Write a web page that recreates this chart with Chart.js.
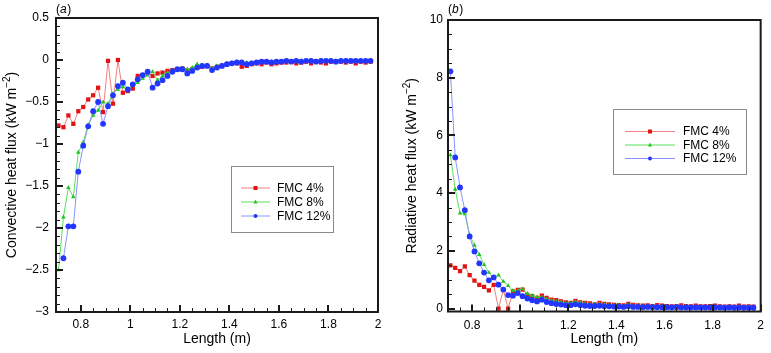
<!DOCTYPE html>
<html>
<head>
<meta charset="utf-8">
<script src="https://cdn.jsdelivr.net/npm/chart.js@4.4.0/dist/chart.umd.min.js"></script>
<style>
  html, body { margin: 0; padding: 0; background: #fff; }
  #wrap { position: relative; width: 771px; height: 353px; }
  canvas { position: absolute; top: 0; }
</style>
</head>
<body>
<div id="wrap">
  <canvas id="conv" width="390" height="353" style="left:0"></canvas>
  <canvas id="rad" width="381" height="353" style="left:390px"></canvas>
</div>
<script>
// distance along the fuel bed (m)
var lengths = [
  0.71, 0.73, 0.75, 0.77, 0.79, 0.81, 0.83, 0.85,
  0.87, 0.89, 0.91, 0.93, 0.95, 0.97, 0.99, 1.01,
  1.03, 1.05, 1.07, 1.09, 1.11, 1.13, 1.15, 1.17,
  1.19, 1.21, 1.23, 1.25, 1.27, 1.29, 1.31, 1.33,
  1.35, 1.37, 1.39, 1.41, 1.43, 1.45, 1.47, 1.49,
  1.51, 1.53, 1.55, 1.57, 1.59, 1.61, 1.63, 1.65,
  1.67, 1.69, 1.71, 1.73, 1.75, 1.77, 1.79, 1.81,
  1.83, 1.85, 1.87, 1.89, 1.91, 1.93, 1.95, 1.97
];

// (a) convective heat flux, kW m-2
var conv4 = [
  -0.78, -0.80, -0.66, -0.76, -0.61, -0.56, -0.47, -0.42,
  -0.33, -0.62, -0.01, -0.52, 0.00, -0.39, -0.37, -0.34,
  -0.19, -0.18, -0.15, -0.19, -0.16, -0.15, -0.13, -0.12,
  -0.11, -0.10, -0.12, -0.11, -0.08, -0.08, -0.07, -0.10,
  -0.08, -0.07, -0.05, -0.04, -0.04, -0.08, -0.07, -0.05,
  -0.04, -0.05, -0.03, -0.05, -0.04, -0.03, -0.03, -0.02,
  -0.04, -0.03, -0.02, -0.04, -0.02, -0.03, -0.04, -0.02,
  -0.02, -0.02, -0.03, -0.02, -0.04, -0.02, -0.03, -0.02
];
var conv8 = [
  -2.50, -1.87, -1.52, -1.63, -1.10, -0.98, -0.77, -0.66,
  -0.60, -0.50, -0.52, -0.40, -0.35, -0.32, -0.36, -0.30,
  -0.27, -0.22, -0.18, -0.14, -0.24, -0.19, -0.15, -0.13,
  -0.12, -0.10, -0.11, -0.09, -0.05, -0.07, -0.06, -0.10,
  -0.07, -0.06, -0.04, -0.03, -0.03, -0.04, -0.03, -0.03,
  -0.03, -0.02, -0.03, -0.02, -0.02, -0.02, -0.01, -0.02,
  -0.02, -0.01, -0.01, -0.02, -0.01, -0.01, -0.02, -0.01,
  -0.01, -0.01, -0.01, -0.01, -0.01, -0.01, -0.01, -0.01
];
var conv12 = [
  null, -2.36, -1.98, -1.98, -1.33, -1.02, -0.79, -0.61,
  -0.50, -0.76, -0.55, -0.42, -0.31, -0.27, -0.35, -0.29,
  -0.23, -0.18, -0.14, -0.33, -0.28, -0.24, -0.19, -0.14,
  -0.11, -0.11, -0.16, -0.13, -0.09, -0.07, -0.07, -0.12,
  -0.09, -0.07, -0.05, -0.04, -0.03, -0.03, -0.05, -0.04,
  -0.03, -0.02, -0.02, -0.03, -0.02, -0.02, -0.01, -0.02,
  -0.01, -0.02, -0.01, -0.01, -0.02, -0.01, -0.01, -0.01,
  -0.02, -0.01, -0.01, -0.01, -0.01, -0.01, -0.01, -0.01
];

// (b) radiative heat flux, kW m-2
var rad4 = [
  1.50, 1.41, 1.30, 1.46, 1.16, 0.97, 0.82, 0.75,
  0.63, 0.82, 0.00, 0.66, 0.00, 0.60, 0.65, 0.66,
  0.48, 0.43, 0.37, 0.45, 0.37, 0.31, 0.29, 0.25,
  0.22, 0.20, 0.27, 0.22, 0.20, 0.18, 0.15, 0.20,
  0.16, 0.15, 0.13, 0.12, 0.11, 0.16, 0.13, 0.11,
  0.10, 0.11, 0.09, 0.12, 0.10, 0.09, 0.08, 0.09,
  0.11, 0.09, 0.08, 0.10, 0.08, 0.08, 0.09, 0.10,
  0.08, 0.07, 0.08, 0.07, 0.10, 0.07, 0.08, 0.07
];
var rad8 = [
  5.32, 4.13, 3.31, 3.28, 2.56, 2.19, 1.87, 1.52,
  1.25, 1.06, 1.16, 0.94, 0.79, 0.62, 0.63, 0.68,
  0.52, 0.45, 0.40, 0.40, 0.33, 0.29, 0.25, 0.23,
  0.20, 0.19, 0.24, 0.20, 0.18, 0.16, 0.15, 0.17,
  0.14, 0.13, 0.12, 0.11, 0.10, 0.13, 0.11, 0.10,
  0.09, 0.09, 0.08, 0.09, 0.08, 0.08, 0.07, 0.08,
  0.07, 0.07, 0.06, 0.07, 0.06, 0.06, 0.06, 0.07,
  0.06, 0.05, 0.06, 0.05, 0.06, 0.05, 0.05, 0.05
];
var rad12 = [
  8.22, 5.24, 4.20, 3.41, 2.50, 1.98, 1.57, 1.25,
  0.98, 1.08, 0.83, 0.66, 0.47, 0.45, 0.54, 0.43,
  0.35, 0.29, 0.25, 0.31, 0.23, 0.19, 0.16, 0.14,
  0.12, 0.12, 0.15, 0.12, 0.10, 0.09, 0.09, 0.10,
  0.08, 0.08, 0.07, 0.07, 0.06, 0.08, 0.06, 0.06,
  0.05, 0.06, 0.05, 0.05, 0.05, 0.05, 0.04, 0.05,
  0.04, 0.04, 0.04, 0.04, 0.04, 0.04, 0.04, 0.04,
  0.04, 0.03, 0.04, 0.03, 0.04, 0.03, 0.03, 0.03
];

var seriesLabels = ["FMC 4%", "FMC 8%", "FMC 12%"];
var lengthTicks = [0.8, 1, 1.2, 1.4, 1.6, 1.8, 2];
var convTicks = [0.5, 0, -0.5, -1, -1.5, -2, -2.5, -3];
var radTicks = [0, 2, 4, 6, 8, 10];

Chart.defaults.font.family = '"Liberation Sans", Arial, sans-serif';
Chart.defaults.font.size = 12;
Chart.defaults.color = "#000";

var FONT = '"Liberation Sans", Arial, sans-serif';

function minus(v) {
  return String(v).replace("-", "\u2212");
}

function marker(ctx, style, x, y, r) {
  ctx.beginPath();
  if (style === "rect") {
    ctx.rect(x - r, y - r, 2 * r, 2 * r);
  } else if (style === "triangle") {
    ctx.moveTo(x, y - r * 1.2);
    ctx.lineTo(x + r, y + r * 0.8);
    ctx.lineTo(x - r, y + r * 0.8);
    ctx.closePath();
  } else {
    ctx.arc(x, y, r, 0, Math.PI * 2);
  }
  ctx.fill();
}

// box frame + inward major/minor ticks, axis titles, panel letter, legend
var decor = {
  id: "decor",
  afterDatasetsDraw: function (chart, args, o) {
    var ctx = chart.ctx, a = chart.chartArea;
    var xs = chart.scales.x, ys = chart.scales.y;
    var i, n, v, p, start;
    ctx.save();
    ctx.strokeStyle = "#1a1a1a";

    // minor ticks
    ctx.lineWidth = 1;
    ctx.beginPath();
    start = Math.ceil(xs.min / o.xMinor - 1e-6) * o.xMinor;
    n = Math.round((xs.max - start) / o.xMinor);
    for (i = 0; i <= n; i++) {
      p = Math.round(xs.getPixelForValue(start + i * o.xMinor)) + 0.5;
      ctx.moveTo(p, a.bottom);
      ctx.lineTo(p, a.bottom - 4);
    }
    start = Math.ceil(ys.min / o.yMinor - 1e-6) * o.yMinor;
    n = Math.round((ys.max - start) / o.yMinor);
    for (i = 0; i <= n; i++) {
      p = Math.round(ys.getPixelForValue(start + i * o.yMinor)) + 0.5;
      ctx.moveTo(a.left, p);
      ctx.lineTo(a.left + 4, p);
    }
    ctx.stroke();

    // major ticks
    ctx.lineWidth = 2;
    ctx.beginPath();
    xs.ticks.forEach(function (t) {
      p = Math.round(xs.getPixelForValue(t.value));
      ctx.moveTo(p, a.bottom);
      ctx.lineTo(p, a.bottom - 7);
    });
    ys.ticks.forEach(function (t) {
      p = Math.round(ys.getPixelForValue(t.value));
      ctx.moveTo(a.left, p);
      ctx.lineTo(a.left + 7, p);
    });
    ctx.stroke();

    ctx.lineWidth = 2;
    ctx.strokeRect(a.left, a.top, a.right - a.left, a.bottom - a.top);

    // x title
    ctx.fillStyle = "#000";
    ctx.font = "14px " + FONT;
    ctx.textAlign = "center";
    ctx.textBaseline = "middle";
    ctx.fillText("Length (m)", (a.left + a.right) / 2, 339);

    // y title with superscript
    ctx.translate(o.yTitleX, (a.top + a.bottom) / 2);
    ctx.rotate(-Math.PI / 2);
    ctx.textAlign = "left";
    var main = o.yTitle + " (kW m", sup = "\u22122", tail = ")";
    ctx.font = "14px " + FONT;
    var w1 = ctx.measureText(main).width, w3 = ctx.measureText(tail).width;
    ctx.font = "10px " + FONT;
    var w2 = ctx.measureText(sup).width;
    var x0 = -(w1 + w2 + w3) / 2;
    ctx.font = "14px " + FONT;
    ctx.fillText(main, x0, 0);
    ctx.fillText(tail, x0 + w1 + w2, 0);
    ctx.font = "10px " + FONT;
    ctx.fillText(sup, x0 + w1, -5);
    ctx.restore();

    // panel letter
    ctx.save();
    ctx.fillStyle = "#000";
    ctx.textBaseline = "alphabetic";
    ctx.textAlign = "left";
    ctx.font = "12px " + FONT;
    var px = a.left;
    ctx.fillText("(", px, 12.5);
    px += ctx.measureText("(").width;
    ctx.font = "italic 12px " + FONT;
    ctx.fillText(o.letter, px, 12.5);
    px += ctx.measureText(o.letter).width + 0.5;
    ctx.font = "12px " + FONT;
    ctx.fillText(")", px, 12.5);

    // legend box
    var L = o.legend;
    ctx.fillStyle = "#fff";
    ctx.fillRect(L.box[0], L.box[1], L.box[2], L.box[3]);
    ctx.strokeStyle = "#8a8a8a";
    ctx.lineWidth = 1;
    ctx.strokeRect(L.box[0] + 0.5, L.box[1] + 0.5, L.box[2], L.box[3]);
    chart.data.datasets.forEach(function (ds, k) {
      var y = L.rows[k];
      ctx.strokeStyle = ds.borderColor;
      ctx.lineWidth = 1;
      ctx.beginPath();
      ctx.moveTo(L.line[0], y + 0.5);
      ctx.lineTo(L.line[1], y + 0.5);
      ctx.stroke();
      ctx.fillStyle = ds.pointBackgroundColor;
      marker(ctx, ds.pointStyle, (L.line[0] + L.line[1]) / 2, y + 0.5, 2);
      ctx.fillStyle = "#000";
      ctx.font = "12px " + FONT;
      ctx.textBaseline = "middle";
      ctx.fillText(ds.label, L.textX, y + 1);
    });
    ctx.restore();
  }
};

function series(k, values, style, radius, dot, line) {
  return {
    label: seriesLabels[k],
    data: lengths.map(function (x, i) { return { x: x, y: values[i] }; }),
    borderColor: line,
    borderWidth: 1,
    backgroundColor: dot,
    pointBackgroundColor: dot,
    pointBorderWidth: 0,
    pointStyle: style,
    pointRadius: radius,
    tension: 0,
    order: 3 - k
  };
}

function makeChart(id, sets, yMin, yMax, yTicks, cfg) {
  return new Chart(document.getElementById(id), {
    type: "line",
    data: {
      datasets: [
        series(0, sets[0], "rect", 3, "#e01414", "rgba(235,95,95,0.8)"),
        series(1, sets[1], "triangle", 2.6, "#1fc41f", "#5ae05a"),
        series(2, sets[2], "circle", 2.9, "#2236ff", "#8a94ff")
      ]
    },
    options: {
      responsive: false,
      animation: false,
      layout: { padding: cfg.padding },
      plugins: {
        legend: { display: false },
        tooltip: { enabled: false },
        decor: cfg.decor
      },
      scales: {
        x: {
          type: "linear",
          min: 0.7,
          max: 2,
          afterBuildTicks: function (s) { s.ticks = lengthTicks.map(function (v) { return { value: v }; }); },
          afterFit: function (s) { s.height = cfg.xHeight; },
          grid: { display: false, drawTicks: false },
          border: { display: false },
          ticks: { padding: cfg.xPad, maxRotation: 0, autoSkip: false, callback: minus }
        },
        y: {
          type: "linear",
          min: yMin,
          max: yMax,
          afterBuildTicks: function (s) { s.ticks = yTicks.map(function (v) { return { value: v }; }); },
          afterFit: function (s) { s.width = cfg.yWidth; },
          grid: { display: false, drawTicks: false },
          border: { display: false },
          ticks: { padding: cfg.yPad, autoSkip: false, callback: minus }
        }
      }
    },
    plugins: [decor]
  });
}

makeChart("conv", [conv4, conv8, conv12], -3, 0.5, convTicks, {
  padding: { top: 18, right: 12, left: 0, bottom: 0 },
  xHeight: 41, yWidth: 56, xPad: 5, yPad: 7,
  decor: {
    xMinor: 0.05, yMinor: 0.1, yTitleX: 12, yTitle: "Convective heat flux", letter: "a",
    legend: { box: [231, 166, 102, 66], line: [241, 270], textX: 277, rows: [187.5, 201.5, 215.5] }
  }
});

makeChart("rad", [rad4, rad8, rad12], -0.1, 10, radTicks, {
  padding: { top: 20, right: 4, left: 0, bottom: 0 },
  xHeight: 41.5, yWidth: 58, xPad: 7, yPad: 5,
  decor: {
    xMinor: 0.05, yMinor: 0.5, yTitleX: 22, yTitle: "Radiative heat flux", letter: "b",
    legend: { box: [223, 109, 133, 65], line: [235, 285], textX: 293, rows: [131, 144.5, 158] }
  }
});
</script>
</body>
</html>
